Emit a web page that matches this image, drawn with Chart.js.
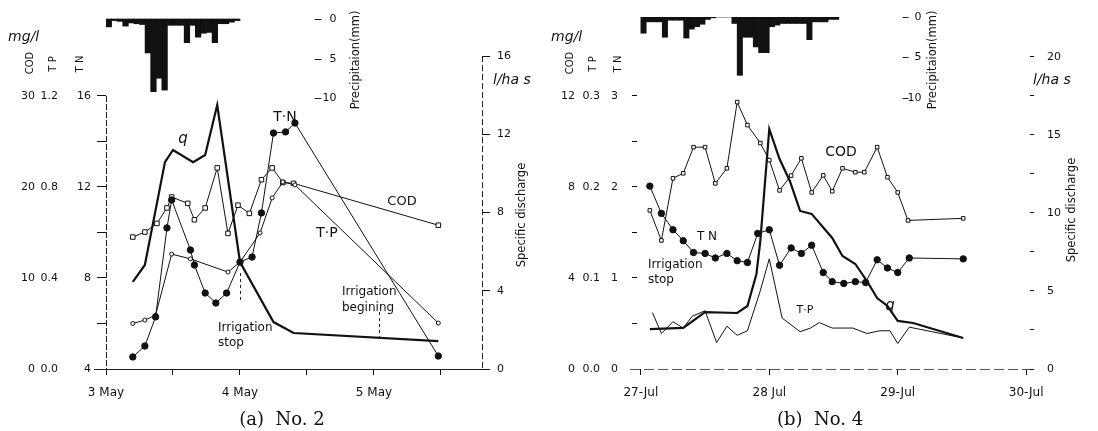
<!DOCTYPE html>
<html>
<head>
<meta charset="utf-8">
<script src="https://cdn.jsdelivr.net/npm/chart.js@4.4.1/dist/chart.umd.min.js"></script>
<style>
  html, body { margin: 0; padding: 0; background: #fff; }
  #wrap { position: relative; width: 1098px; height: 431px; overflow: hidden; }
  .panel { position: absolute; top: 0; width: 549px; height: 431px; }
  #pA { left: 0; }
  #pB { left: 549px; }
</style>
</head>
<body>
<div id="wrap">
  <div class="panel" id="pA"><canvas id="chartA"></canvas></div>
  <div class="panel" id="pB"><canvas id="chartB"></canvas></div>
</div>
<script>
// ---------- (a) No. 2  (x = day of May) ----------
const aCodT = [3.20, 3.29, 3.38, 3.455, 3.49, 3.61, 3.66, 3.74, 3.83, 3.91, 3.985, 4.07, 4.16, 4.24, 4.32, 4.40, 5.48];
const aCodV = [14.5, 15.05, 16.0, 17.7, 18.9, 18.2, 16.4, 17.7, 22.1, 14.9, 18.0, 17.1, 20.8, 22.1, 20.5, 20.4, 15.8];
const aTpT = [3.20, 3.29, 3.37, 3.49, 3.63, 3.91, 4.0, 4.15, 4.24, 4.32, 4.41, 5.48];
const aTpV = [0.20, 0.215, 0.237, 0.505, 0.484, 0.426, 0.47, 0.598, 0.752, 0.822, 0.809, 0.202];
const aTnT = [3.20, 3.29, 3.37, 3.455, 3.49, 3.63, 3.66, 3.74, 3.82, 3.90, 4.0, 4.09, 4.16, 4.25, 4.34, 4.41, 5.48];
const aTnV = [4.53, 5.01, 6.29, 10.2, 11.43, 9.23, 8.57, 7.34, 6.9, 7.34, 8.70, 8.92, 10.86, 14.37, 14.42, 14.81, 4.57];
const aQT = [3.20, 3.29, 3.44, 3.50, 3.65, 3.74, 3.83, 4.0, 4.25, 4.40, 5.48];
const aQV = [4.45, 5.32, 10.58, 11.2, 10.58, 10.94, 13.5, 5.47, 2.4, 1.84, 1.43];
// hourly rain from 3 May 00:00
const aRainStart = 3;
const aRain = [1.0, 0.2, 0.3, 0.9, 0.5, 0.6, 0.7, 4.3, 9.2, 7.5, 9.0, 0.8, 0.8, 0.8, 3.0, 0.8, 2.3, 1.8, 1.7, 3.0, 0.6, 0.6, 0.4, 0.2];

const aDayTicks = [3, 3.5, 4, 4.5, 5, 5.5];
const aDayLabels = ['3 May', '', '4 May', '', '5 May', ''];
const aCodTicks = [0, 10, 20, 30];
const aCodLabels = ['0', '10', '20', '30'];
const aTpTicks = [0, 0.4, 0.8, 1.2];
const aTpLabels = ['0.0', '0.4', '0.8', '1.2'];
const aTnTicks = [4, 6, 8, 10, 12, 14, 16];
const aTnLabels = ['4', '', '8', '', '12', '', '16'];
const aQTicks = [0, 4, 8, 12, 16];
const aQLabels = ['0', '4', '8', '12', '16'];
const aRainTicks = [0, 5, 10];
const aRainLabels = ['0', '5', '10'];

// ---------- (b) No. 4  (x = day of July) ----------
const bCodT = [27.07, 27.16, 27.25, 27.33, 27.41, 27.50, 27.58, 27.67, 27.75, 27.83, 27.93, 28.0, 28.08, 28.17, 28.25, 28.33, 28.42, 28.49, 28.57, 28.67, 28.74, 28.84, 28.92, 29.0, 29.08, 29.51];
const bCodV = [6.97, 5.65, 8.38, 8.60, 9.75, 9.75, 8.16, 8.82, 11.73, 10.72, 9.93, 9.18, 7.85, 8.5, 9.26, 7.76, 8.51, 7.81, 8.82, 8.65, 8.65, 9.75, 8.43, 7.76, 6.53, 6.62];
const bTnT = [27.07, 27.16, 27.25, 27.33, 27.41, 27.50, 27.58, 27.67, 27.75, 27.83, 27.91, 28.0, 28.08, 28.17, 28.25, 28.33, 28.42, 28.49, 28.58, 28.67, 28.75, 28.84, 28.92, 29.0, 29.09, 29.51];
const bTnV = [2.01, 1.71, 1.53, 1.41, 1.28, 1.27, 1.22, 1.27, 1.19, 1.17, 1.49, 1.53, 1.14, 1.33, 1.27, 1.36, 1.06, 0.96, 0.94, 0.96, 0.95, 1.20, 1.11, 1.06, 1.22, 1.21];
const bTpT = [27.09, 27.16, 27.25, 27.33, 27.40, 27.50, 27.59, 27.67, 27.75, 27.83, 27.93, 28.0, 28.10, 28.24, 28.32, 28.39, 28.49, 28.57, 28.65, 28.76, 28.86, 28.94, 29.0, 29.09, 29.51];
const bTpV = [0.062, 0.039, 0.052, 0.045, 0.058, 0.064, 0.029, 0.047, 0.037, 0.042, 0.086, 0.121, 0.056, 0.041, 0.045, 0.051, 0.045, 0.045, 0.045, 0.039, 0.042, 0.042, 0.028, 0.046, 0.034];
const bQT = [27.07, 27.33, 27.50, 27.75, 27.83, 27.90, 27.93, 28.0, 28.08, 28.16, 28.24, 28.33, 28.49, 28.57, 28.67, 28.76, 28.84, 28.92, 29.0, 29.12, 29.51];
const bQV = [2.56, 2.63, 3.65, 3.59, 4.04, 6.09, 8.2, 15.38, 13.46, 12.05, 10.13, 9.94, 8.4, 7.24, 6.73, 5.64, 4.55, 4.04, 3.08, 2.95, 1.99];
// hourly rain from 27 Jul 00:00
const bRainStart = 27;
const bRain = [2.0, 0.6, 0.6, 0.6, 2.5, 0.4, 0.4, 0.4, 2.6, 1.5, 1.2, 0.9, 0.3, 0.1, 0, 0, 0, 0.8, 7.2, 2.5, 2.5, 3.7, 4.4, 4.4, 1.2, 1.0, 0.8, 0.8, 0.8, 0.8, 0.8, 2.8, 0.6, 0.6, 0.6, 0.3, 0.3];

const bDayTicks = [27, 28, 29, 30];
const bDayLabels = ['27-Jul', '28 Jul', '29-Jul', '30-Jul'];
const bCodTicks = [0, 4, 8, 12];
const bCodLabels = ['0', '4', '8', '12'];
const bTpTicks = [0, 0.1, 0.2, 0.3];
const bTpLabels = ['0.0', '0.1', '0.2', '0.3'];
const bTnTicks = [0, 0.5, 1, 1.5, 2, 2.5, 3];
const bTnLabels = ['0', '', '1', '', '2', '', '3'];
const bQTicks = [0, 2.5, 5, 7.5, 10, 12.5, 15, 17.5, 20];
const bQLabels = ['0', '', '5', '', '10', '', '15', '', '20'];
const bRainTicks = [0, 5, 10];
const bRainLabels = ['0', '5', '10'];

const INK = '#111';
const FAM = '"DejaVu Sans", Verdana, sans-serif';
const tickFont = { family: FAM, size: 11 };

// ---- helpers ----
function line(xs, ys, axis, extra) {
  return Object.assign({
    data: xs.map((x, i) => ({ x: x, y: ys[i] })),
    yAxisID: axis,
    borderColor: INK,
    borderWidth: 1,
    pointBorderColor: INK,
    pointBorderWidth: 1,
    tension: 0,
    fill: false
  }, extra);
}

function rain(start, vals) {
  return {
    type: 'bar',
    data: vals.map((v, i) => ({ x: start + (i + 0.5) / 24, y: v })),
    yAxisID: 'yP',
    backgroundColor: INK,
    borderWidth: 0,
    barPercentage: 1,
    categoryPercentage: 1
  };
}

function yAxis(pos, weight, min, max, ticks, labels, width, tick, pad) {
  return {
    type: 'linear', position: pos, weight: weight, min: min, max: max,
    afterBuildTicks: sc => { sc.ticks = ticks.map(v => ({ value: v })); },
    afterFit: sc => { sc.width = width; sc.paddingTop = 0; sc.paddingBottom = 0; },
    ticks: { callback: (v, i) => labels[i], padding: pad, font: tickFont, color: INK, autoSkip: false },
    grid: { display: tick > 0, drawOnChartArea: false, drawTicks: tick > 0, tickLength: tick, color: INK },
    border: { display: false }
  };
}

function xAxis(min, max, ticks, labels) {
  return {
    type: 'linear', min: min, max: max, offset: false,
    afterBuildTicks: sc => { sc.ticks = ticks.map(v => ({ value: v })); },
    afterFit: sc => { sc.height = 62; sc.paddingLeft = 0; sc.paddingRight = 0; },
    ticks: { callback: (v, i) => labels[i], padding: 11, font: { family: FAM, size: 12 }, color: INK, maxRotation: 0, autoSkip: false },
    grid: { drawOnChartArea: false, drawTicks: true, tickLength: 6, color: INK, offset: false },
    border: { display: false }
  };
}

// texts, axis lines and the precipitation axis
const notes = {
  id: 'notes',
  afterDraw(chart, args, o) {
    const ctx = chart.ctx, a = chart.chartArea, s = chart.scales;
    ctx.save();
    ctx.lineWidth = 1;

    (o.axisLines || []).forEach(l => {
      ctx.setLineDash(l.dash || []);
      ctx.strokeStyle = l.color || '#222';
      ctx.beginPath();
      if (l.side === 'bottom') {
        ctx.moveTo(a.left - (l.ext || 0), Math.round(a.bottom) + 0.5);
        ctx.lineTo(a.right, Math.round(a.bottom) + 0.5);
      } else {
        const x = Math.round(l.side === 'left' ? a.left : a.right) + 0.5;
        ctx.moveTo(x, s[l.scale].getPixelForValue(l.top));
        ctx.lineTo(x, a.bottom);
      }
      ctx.stroke();
    });

    ctx.strokeStyle = '#222';
    ctx.setLineDash([3, 3]);
    (o.marks || []).forEach(m => {
      const x = Math.round(s.x.getPixelForValue(m.x)) + 0.5;
      ctx.beginPath();
      ctx.moveTo(x, m.y1);
      ctx.lineTo(x, m.y2);
      ctx.stroke();
    });
    ctx.setLineDash([]);

    const r = o.rainAxis;
    if (r) {
      const x = Math.round(s.x.getPixelForValue(r.at)) + 0.5;
      ctx.font = '11px ' + FAM;
      ctx.fillStyle = INK;
      ctx.textAlign = 'right';
      ctx.textBaseline = 'middle';
      r.ticks.forEach((v, i) => {
        const y = Math.round(s.yP.getPixelForValue(v)) + 0.5;
        ctx.beginPath();
        ctx.moveTo(x - r.tick, y);
        ctx.lineTo(x, y);
        ctx.stroke();
        ctx.fillText(r.labels[i], x + r.gap, y);
      });
    }

    (o.texts || []).forEach(t => {
      ctx.save();
      ctx.font = t.font;
      ctx.fillStyle = INK;
      ctx.textAlign = t.align || 'center';
      ctx.textBaseline = 'middle';
      ctx.translate(t.x, t.y);
      if (t.rot) ctx.rotate(-Math.PI / 2);
      ctx.fillText(t.text, 0, 0);
      ctx.restore();
    });
    ctx.restore();
  }
};

const f = (size, style) => (style ? style + ' ' : '') + size + 'px ' + FAM;
const serif = '18px "DejaVu Serif", "Liberation Serif", serif';

// ---------- chart (a) ----------
new Chart(document.getElementById('chartA'), {
  type: 'line',
  data: {
    datasets: [
      line(aTnT, aTnV, 'yTN', { pointRadius: 3.2, pointBackgroundColor: INK }),
      line(aTpT, aTpV, 'yTP', { pointRadius: 2, pointBackgroundColor: '#fff' }),
      line(aCodT, aCodV, 'yCOD', { pointStyle: 'rect', pointRadius: 3.2, pointBackgroundColor: '#fff' }),
      line(aQT, aQV, 'yQ', { borderWidth: 2.2, pointRadius: 0 }),
      rain(aRainStart, aRain)
    ]
  },
  options: {
    responsive: true,
    maintainAspectRatio: false,
    animation: false,
    layout: { padding: { left: 14, top: 17, right: 0, bottom: 0 } },
    scales: {
      x: xAxis(3, 5.806, aDayTicks, aDayLabels),
      yCOD: yAxis('left', 3, 0, 38.68, aCodTicks, aCodLabels, 21, 0, 0),
      yTP: yAxis('left', 2, 0, 1.547, aTpTicks, aTpLabels, 23, 0, 0),
      yTN: yAxis('left', 1, 4, 19.47, aTnTicks, aTnLabels, 48, 9, 6),
      yQ: yAxis('right', 1, 0, 18.0, aQTicks, aQLabels, 67, 8, 7),
      yP: { type: 'linear', display: false, reverse: true, min: -0.253, max: 44.3 }
    },
    plugins: {
      legend: { display: false },
      tooltip: { enabled: false },
      notes: {
        axisLines: [
          { side: 'left', scale: 'yTN', top: 16, dash: [6, 2] },
          { side: 'right', scale: 'yQ', top: 16, dash: [6, 3] },
          { side: 'bottom', ext: 12 }
        ],
        marks: [{ x: 4.0, y1: 273, y2: 303 }, { x: 5.04, y1: 312, y2: 338 }],
        rainAxis: { at: 4.604, tick: 7, gap: 15, ticks: aRainTicks, labels: aRainLabels },
        texts: [
          { text: 'mg/l', x: 8, y: 37, align: 'left', font: f(14, 'italic') },
          { text: 'COD', x: 30, y: 63, rot: true, font: f(10) },
          { text: 'T P', x: 53, y: 64, rot: true, font: f(10) },
          { text: 'T N', x: 80, y: 64, rot: true, font: f(10) },
          { text: 'Precipitaion(mm)', x: 356, y: 60, rot: true, font: f(11.5) },
          { text: 'l/ha s', x: 493, y: 80, align: 'left', font: f(14, 'italic') },
          { text: 'Specific discharge', x: 522, y: 215, rot: true, font: f(11.5) },
          { text: 'q', x: 183, y: 139, font: f(15, 'italic') },
          { text: 'T·N', x: 285, y: 117, font: f(14) },
          { text: 'COD', x: 402, y: 202, font: f(13) },
          { text: 'T·P', x: 327, y: 233, font: f(14) },
          { text: 'Irrigation', x: 218, y: 328, align: 'left', font: f(12) },
          { text: 'stop', x: 218, y: 343, align: 'left', font: f(12) },
          { text: 'Irrigation', x: 342, y: 292, align: 'left', font: f(12) },
          { text: 'begining', x: 342, y: 308, align: 'left', font: f(12) },
          { text: '(a)  No. 2', x: 282, y: 420, font: serif }
        ]
      }
    }
  },
  plugins: [notes]
});

// ---------- chart (b) ----------
new Chart(document.getElementById('chartB'), {
  type: 'line',
  data: {
    datasets: [
      line(bTnT, bTnV, 'yTN', { pointRadius: 3.2, pointBackgroundColor: INK }),
      line(bTpT, bTpV, 'yTP', { pointRadius: 0 }),
      line(bCodT, bCodV, 'yCOD', { pointStyle: 'rect', pointRadius: 2.5, pointBackgroundColor: '#fff' }),
      line(bQT, bQV, 'yQ', { borderWidth: 2.2, pointRadius: 0 }),
      rain(bRainStart, bRain)
    ]
  },
  options: {
    responsive: true,
    maintainAspectRatio: false,
    animation: false,
    layout: { padding: { left: 10, top: 17, right: 0, bottom: 0 } },
    scales: {
      x: xAxis(26.97, 30.03, bDayTicks, bDayLabels),
      yCOD: yAxis('left', 3, 0, 15.47, bCodTicks, bCodLabels, 16, 0, 0),
      yTP: yAxis('left', 2, 0, 0.3868, bTpTicks, bTpLabels, 25, 0, 0),
      yTN: yAxis('left', 1, 0, 3.868, bTnTicks, bTnLabels, 37, 5, 14),
      yQ: yAxis('right', 1, 0, 22.56, bQTicks, bQLabels, 68, 4, 13),
      yP: { type: 'linear', display: false, reverse: true, min: 0, max: 43.46 }
    },
    plugins: {
      legend: { display: false },
      tooltip: { enabled: false },
      notes: {
        axisLines: [{ side: 'bottom', ext: 7, dash: [10, 4], color: '#555' }],
        rainAxis: { at: 29.08, tick: 6, gap: 13, ticks: bRainTicks, labels: bRainLabels },
        texts: [
          { text: 'mg/l', x: 2, y: 37, align: 'left', font: f(14, 'italic') },
          { text: 'COD', x: 21, y: 63, rot: true, font: f(10) },
          { text: 'T P', x: 44, y: 64, rot: true, font: f(10) },
          { text: 'T N', x: 69, y: 64, rot: true, font: f(10) },
          { text: 'Precipitaion(mm)', x: 384, y: 60, rot: true, font: f(11.5) },
          { text: 'l/ha s', x: 484, y: 80, align: 'left', font: f(14, 'italic') },
          { text: 'Specific discharge', x: 523, y: 210, rot: true, font: f(11.5) },
          { text: 'COD', x: 292, y: 152, font: f(14) },
          { text: 'T N', x: 158, y: 237, font: f(12) },
          { text: 'Irrigation', x: 99, y: 265, align: 'left', font: f(12) },
          { text: 'stop', x: 99, y: 280, align: 'left', font: f(12) },
          { text: 'T·P', x: 256, y: 310, font: f(11) },
          { text: 'q', x: 341, y: 306, font: f(15, 'italic') },
          { text: '(b)  No. 4', x: 271, y: 420, font: serif }
        ]
      }
    }
  },
  plugins: [notes]
});
</script>
</body>
</html>
